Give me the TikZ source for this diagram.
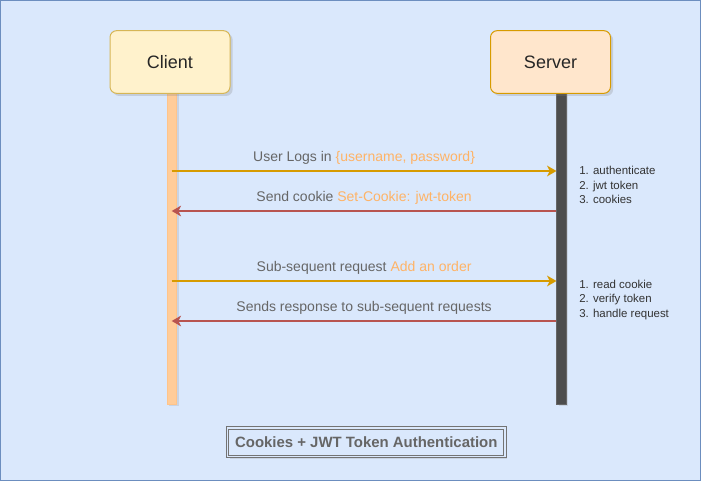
\documentclass[tikz,border=0pt]{standalone}
\usepackage{fontspec}
\setmainfont{Liberation Sans}
\usetikzlibrary{positioning,arrows.meta,shadows}

\definecolor{bgblue}{HTML}{DAE8FC}
\definecolor{bgline}{HTML}{6C8EBF}
\definecolor{clientfill}{HTML}{FFF2CC}
\definecolor{clientdraw}{HTML}{D6B656}
\definecolor{serverfill}{HTML}{FFE6CC}
\definecolor{serverdraw}{HTML}{D79B00}
\definecolor{lifeorange}{HTML}{FFCC99}
\definecolor{lifedark}{HTML}{4D4D4D}
\definecolor{reqcolor}{HTML}{D79B00}
\definecolor{respcolor}{HTML}{B85450}
\definecolor{labelgray}{HTML}{666666}
\definecolor{hiorange}{HTML}{FFB366}

\newcommand{\hilite}[1]{\textcolor{hiorange}{#1}}

\tikzstyle{frame} = [draw=bgline, fill=bgblue, line width=0.75pt]
\tikzstyle{actor} = [draw, rounded corners=5pt, minimum width=90pt, minimum height=47pt, line width=0.75pt, font=\fontsize{13.5}{16}\selectfont, text=black!85, drop shadow={shadow xshift=2pt, shadow yshift=-2pt, opacity=0.25}]
\tikzstyle{clientbox} = [actor, fill=clientfill, draw=clientdraw]
\tikzstyle{serverbox} = [actor, fill=serverfill, draw=serverdraw]
\tikzstyle{lifeline} = [draw, minimum width=7.2pt, minimum height=234.75pt, inner sep=0pt, anchor=north, line width=0.4pt, drop shadow={shadow xshift=1.5pt, shadow yshift=-1.5pt, opacity=0.2}]
\tikzstyle{clientlife} = [lifeline, fill=lifeorange, draw=lifeorange!90!orange]
\tikzstyle{serverlife} = [lifeline, fill=lifedark, draw=black!60]
\tikzstyle{request} = [line width=1.3pt, draw=reqcolor, -{Stealth[length=7pt, width=8pt, inset=2pt, fill=reqcolor]}]
\tikzstyle{response} = [line width=1.3pt, draw=respcolor, -{Stealth[length=7pt, width=8pt, inset=2pt, fill=respcolor]}]
\tikzstyle{msg} = [midway, yshift=9.5pt, font=\fontsize{10.5}{12}\selectfont, text=labelgray]
\tikzstyle{note} = [anchor=west, align=left, inner sep=0pt, font=\fontsize{8.6}{10.6}\selectfont, text=black!80]
\tikzstyle{caption} = [draw=black!55, fill=bgblue, double=bgblue, double distance=1pt, line width=0.7pt, minimum width=208pt, minimum height=21.5pt, font=\bfseries\fontsize{11.2}{13}\selectfont, text=labelgray, drop shadow={shadow xshift=1.5pt, shadow yshift=-1.5pt, opacity=0.2}]

\begin{document}
\begin{tikzpicture}[x=0.75pt, y=-0.75pt]

% Background
\useasboundingbox (0,0) rectangle (701,481);
\draw [frame] (0.5,0.5) rectangle (700.5,480.5);

% Lifelines
\node (clientline) [clientlife] at (171.7,91) {};
\node (serverline) [serverlife] at (561.5,91) {};

% Actors
\node (client) [clientbox] at (170,62) {Client};
\node (server) [serverbox] at (550.5,62) {Server};

% Login
\draw [request] (clientline |- 0,171) -- node[msg] {User Logs in \hilite{\{username, password\}}} (serverline.west |- 0,171);
\draw [response] (serverline.west |- 0,211) -- node[msg] {Send cookie \hilite{Set-Cookie: jwt-token}} (clientline |- 0,211);
\node (authsteps) [note] at (579,185) {1. authenticate\\2. jwt token\\3. cookies};

% Sub-sequent requests
\draw [request] (clientline |- 0,281) -- node[msg] {Sub-sequent request \hilite{Add an order}} (serverline.west |- 0,281);
\draw [response] (serverline.west |- 0,321) -- node[msg] {Sends response to sub-sequent requests} (clientline |- 0,321);
\node (ordersteps) [note] at (579,300) {1. read cookie\\2. verify token\\3. handle request};

% Caption
\node (title) [caption] at (366.3,442.3) {Cookies + JWT Token Authentication};

\end{tikzpicture}
\end{document}
